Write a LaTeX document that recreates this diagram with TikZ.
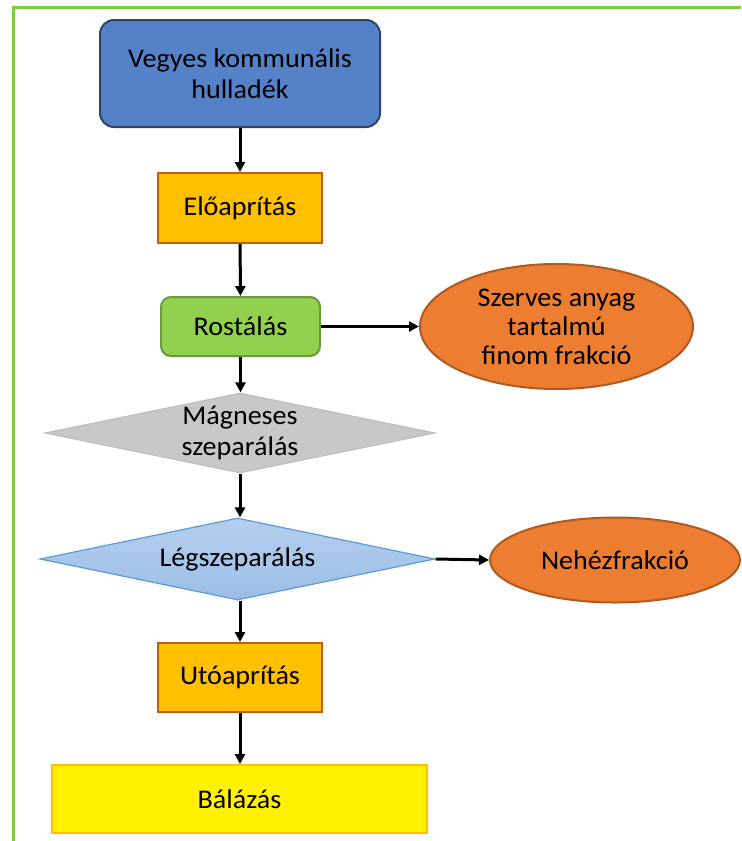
\documentclass[tikz,border=0pt]{standalone}
\usepackage{fontspec}
\setmainfont{Carlito}[FakeStretch=1.04]
\usetikzlibrary{arrows.meta,shapes.geometric}
\definecolor{frameg}{RGB}{125,206,60}
\definecolor{bluef}{RGB}{84,129,200}
\definecolor{blued}{RGB}{47,66,104}
\definecolor{goldf}{RGB}{255,192,0}
\definecolor{goldd}{RGB}{197,90,17}
\definecolor{greenf}{RGB}{146,208,80}
\definecolor{greend}{RGB}{106,154,60}
\definecolor{orangef}{RGB}{237,125,49}
\definecolor{oranged}{RGB}{174,90,33}
\definecolor{greyf}{RGB}{200,200,200}
\definecolor{greyd}{RGB}{190,190,190}
\definecolor{skyt}{RGB}{182,206,238}
\definecolor{skyb}{RGB}{155,190,230}
\definecolor{skyd}{RGB}{91,155,213}
\tikzset{
  txt/.style={font=\fontsize{13.5}{15.5}\selectfont,align=center},
  stepbox/.style={txt,draw,rectangle,line width=1pt,inner sep=0pt},
  roundbox/.style={stepbox,rounded corners=7pt},
  outbox/.style={txt,draw,ellipse,line width=1pt,inner sep=0pt,fill=orangef,draw=oranged},
  decide/.style={draw,diamond,line width=0.6pt,inner sep=0pt},
  flow/.style={-{Triangle[length=5pt,width=5pt]},line width=1.5pt}
}

\begin{document}
\begin{tikzpicture}[x=0.5pt,y=-0.5pt]
  \useasboundingbox (0,0) rectangle (741,841);
  \draw[frameg,line width=1.5pt] (13,841)--(13,7)--(741,7);
  \node[roundbox,fill=bluef,draw=blued,minimum width=140pt,minimum height=53.5pt] (mixed) at (240,73.5) {Vegyes kommunális\\hulladék};
  \node[stepbox,fill=goldf,draw=goldd,minimum width=82pt,minimum height=35pt] (pre) at (240,208) {Előaprítás};
  \node[roundbox,rounded corners=5pt,fill=greenf,draw=greend,minimum width=79.5pt,minimum height=29.5pt] (sieve) at (240.5,326.5) {Rostálás};
  \node[outbox,minimum width=136.5pt,minimum height=62.5pt,font=\fontsize{13.5}{14.5}\selectfont] (fine) at (556.5,326.5) {Szerves anyag\\tartalmú\\finom frakció};
  \node[decide,fill=greyf,draw=greyd,minimum width=195pt,minimum height=40pt,
    label={[txt]center:Mágneses\\szeparálás}] (mag) at (240,433) {};
  \node[decide,top color=skyt,bottom color=skyb,draw=skyd,minimum width=197.5pt,minimum height=41pt,
    label={[txt]center:Légszeparálás}] (air) at (237.5,559) {};
  \node[outbox,minimum width=125pt,minimum height=42.5pt] (heavy) at (615,560) {Nehézfrakció};
  \node[stepbox,fill=goldf,draw=goldd,minimum width=82pt,minimum height=34.5pt] (post) at (240,677.5) {Utóaprítás};
  \node[stepbox,fill=yellow,draw=goldf,minimum width=187.5pt,minimum height=34pt] (bale) at (239.5,799) {Bálázás};
  \draw[flow] (mixed)--(pre);
  \draw[flow] (pre)--(sieve);
  \draw[flow] (sieve.east)--(fine.west);
  \draw[flow] (sieve.south)--(sieve.south|-mag.north);
  \draw[flow] (mag.south)--(mag.south|-air.north);
  \draw[flow] (air.east)--(heavy.west);
  \draw[flow] (air.south-|post.north)--(post.north);
  \draw[flow] (post)--(post.south|-bale.north);
\end{tikzpicture}
\end{document}
